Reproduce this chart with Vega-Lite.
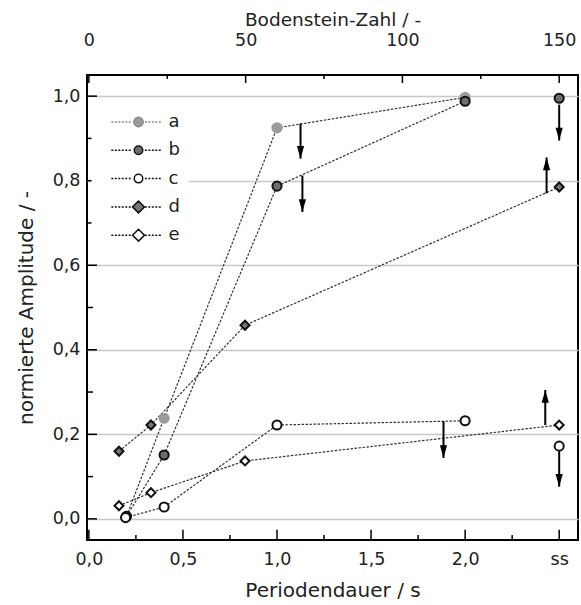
{
  "$schema": "https://vega.github.io/schema/vega-lite/v6.json",
  "width": 491,
  "height": 465,
  "autosize": {"type": "none"},
  "padding": {"left": 87, "top": 75, "right": 3, "bottom": 65},
  "background": "white",
  "config": {
    "view": {"stroke": "black", "strokeWidth": 2},
    "font": "DejaVu Sans",
    "axis": {
      "labelFont": "DejaVu Sans",
      "titleFont": "DejaVu Sans",
      "labelColor": "#222",
      "titleColor": "#222",
      "labelFontSize": 17.5,
      "titleFontSize": 20,
      "titleFontWeight": "normal",
      "ticks": false,
      "tickSize": 0,
      "domain": false,
      "grid": false,
      "labelFlush": false,
      "labelOverlap": false
    }
  },
  "datasets": {
    "pts": [
      {"series": "a", "t": 0.2, "v": 0.006, "conn": true},
      {"series": "a", "t": 0.4, "v": 0.238, "conn": true},
      {"series": "a", "t": 1.0, "v": 0.925, "conn": true},
      {"series": "a", "t": 2.0, "v": 0.997, "conn": true},
      {"series": "b", "t": 0.2, "v": 0.006, "conn": true},
      {"series": "b", "t": 0.4, "v": 0.151, "conn": true},
      {"series": "b", "t": 1.0, "v": 0.787, "conn": true},
      {"series": "b", "t": 2.0, "v": 0.988, "conn": true},
      {"series": "b", "t": 2.5, "v": 0.995, "conn": false},
      {"series": "c", "t": 0.195, "v": 0.003, "conn": true},
      {"series": "c", "t": 0.4, "v": 0.028, "conn": true},
      {"series": "c", "t": 1.0, "v": 0.222, "conn": true},
      {"series": "c", "t": 2.0, "v": 0.232, "conn": true},
      {"series": "c", "t": 2.5, "v": 0.172, "conn": false},
      {"series": "d", "t": 0.16, "v": 0.16, "conn": true},
      {"series": "d", "t": 0.33, "v": 0.222, "conn": true},
      {"series": "d", "t": 0.83, "v": 0.458, "conn": true},
      {"series": "d", "t": 2.5, "v": 0.785, "conn": true},
      {"series": "e", "t": 0.16, "v": 0.031, "conn": true},
      {"series": "e", "t": 0.33, "v": 0.062, "conn": true},
      {"series": "e", "t": 0.83, "v": 0.137, "conn": true},
      {"series": "e", "t": 2.5, "v": 0.222, "conn": true}
    ],
    "arrows": [
      {"t": 1.125, "v": 0.935, "v2": 0.852, "dir": "down"},
      {"t": 1.135, "v": 0.812, "v2": 0.726, "dir": "down"},
      {"t": 1.885, "v": 0.231, "v2": 0.144, "dir": "down"},
      {"t": 2.5, "v": 0.98, "v2": 0.895, "dir": "down"},
      {"t": 2.433, "v": 0.77, "v2": 0.855, "dir": "up"},
      {"t": 2.426, "v": 0.222, "v2": 0.305, "dir": "up"},
      {"t": 2.5, "v": 0.16, "v2": 0.076, "dir": "down"}
    ],
    "xt": [
      {"t": 0, "k": "M"}, {"t": 0.25, "k": "m"}, {"t": 0.5, "k": "M"}, {"t": 0.75, "k": "m"},
      {"t": 1.0, "k": "M"}, {"t": 1.25, "k": "m"}, {"t": 1.5, "k": "M"}, {"t": 1.75, "k": "m"},
      {"t": 2.0, "k": "M"}, {"t": 2.25, "k": "m"}, {"t": 2.5, "k": "M"}
    ],
    "yt": [
      {"v": 0, "k": "M"}, {"v": 0.1, "k": "m"}, {"v": 0.2, "k": "M"}, {"v": 0.3, "k": "m"},
      {"v": 0.4, "k": "M"}, {"v": 0.5, "k": "m"}, {"v": 0.6, "k": "M"}, {"v": 0.7, "k": "m"},
      {"v": 0.8, "k": "M"}, {"v": 0.9, "k": "m"}, {"v": 1.0, "k": "M"}
    ],
    "bt": [
      {"bo": 0, "k": "M"}, {"bo": 25, "k": "m"}, {"bo": 50, "k": "M"}, {"bo": 75, "k": "m"},
      {"bo": 100, "k": "M"}, {"bo": 125, "k": "m"}, {"bo": 150, "k": "M"}
    ]
  },
  "layer": [
    {
      "layer": [
        {
          "data": {"name": "pts"},
          "transform": [{"filter": "datum.conn"}],
          "mark": {"type": "line", "strokeDash": [2.5, 1.5], "strokeWidth": 1.2, "color": "#333"},
          "encoding": {
            "x": {
              "field": "t", "type": "quantitative",
              "scale": {"domain": [-0.01, 2.6], "nice": false, "zero": false},
              "axis": {
                "orient": "bottom", "title": "Periodendauer / s",
                "values": [0, 0.5, 1, 1.5, 2, 2.5],
                "labelExpr": "datum.value >= 2.4 ? 'ss' : replace(format(datum.value, '.1f'), '.', ',')",
                "labelPadding": 10, "titlePadding": 13
              }
            },
            "y": {
              "field": "v", "type": "quantitative",
              "scale": {"domain": [-0.05, 1.05], "nice": false, "zero": false},
              "axis": {
                "orient": "left", "title": "normierte Amplitude / -",
                "values": [0, 0.2, 0.4, 0.6, 0.8, 1.0],
                "labelExpr": "replace(format(datum.value, '.1f'), '.', ',')",
                "labelPadding": 7, "titlePadding": 16,
                "grid": true, "gridColor": "#c8c8c8", "gridWidth": 1.5
              }
            },
            "detail": {"field": "series"},
            "order": {"field": "t"}
          }
        },
        {
          "data": {"name": "xt"},
          "transform": [{"filter": "datum.k === 'M'"}],
          "mark": {"type": "rule", "strokeWidth": 1.5, "color": "black", "opacity": 1},
          "encoding": {
            "x": {"field": "t", "type": "quantitative"},
            "y": {"datum": -0.05, "type": "quantitative"},
            "y2": {"datum": -0.026}
          }
        },
        {
          "data": {"name": "xt"},
          "transform": [{"filter": "datum.k === 'm'"}],
          "mark": {"type": "rule", "strokeWidth": 1.5, "color": "black", "opacity": 1},
          "encoding": {
            "x": {"field": "t", "type": "quantitative"},
            "y": {"datum": -0.05, "type": "quantitative"},
            "y2": {"datum": -0.038}
          }
        },
        {
          "data": {"name": "yt"},
          "transform": [{"filter": "datum.k === 'M'"}],
          "mark": {"type": "rule", "strokeWidth": 1.5, "color": "black", "opacity": 1},
          "encoding": {
            "y": {"field": "v", "type": "quantitative"},
            "x": {"datum": -0.01, "type": "quantitative"},
            "x2": {"datum": 0.043}
          }
        },
        {
          "data": {"name": "yt"},
          "transform": [{"filter": "datum.k === 'm'"}],
          "mark": {"type": "rule", "strokeWidth": 1.5, "color": "black", "opacity": 1},
          "encoding": {
            "y": {"field": "v", "type": "quantitative"},
            "x": {"datum": -0.01, "type": "quantitative"},
            "x2": {"datum": 0.022}
          }
        },
        {
          "data": {"name": "arrows"},
          "mark": {"type": "rule", "strokeWidth": 2, "color": "black"},
          "encoding": {
            "x": {"field": "t", "type": "quantitative"},
            "y": {"field": "v", "type": "quantitative"},
            "y2": {"field": "v2"}
          }
        },
        {
          "data": {"name": "arrows"},
          "transform": [{"filter": "datum.dir === 'down'"}],
          "mark": {"type": "point", "shape": "M0,0L-0.9,-3.2L0.9,-3.2Z", "size": 64, "filled": true, "color": "black", "opacity": 1},
          "encoding": {
            "x": {"field": "t", "type": "quantitative"},
            "y": {"field": "v2", "type": "quantitative"}
          }
        },
        {
          "data": {"name": "arrows"},
          "transform": [{"filter": "datum.dir === 'up'"}],
          "mark": {"type": "point", "shape": "M0,0L-0.9,3.2L0.9,3.2Z", "size": 64, "filled": true, "color": "black", "opacity": 1},
          "encoding": {
            "x": {"field": "t", "type": "quantitative"},
            "y": {"field": "v2", "type": "quantitative"}
          }
        },
        {
          "data": {"name": "pts"},
          "mark": {"type": "point", "strokeWidth": 2, "opacity": 1},
          "encoding": {
            "x": {"field": "t", "type": "quantitative"},
            "y": {"field": "v", "type": "quantitative"},
            "shape": {"field": "series", "type": "nominal", "scale": {"domain": ["a", "b", "c", "d", "e"], "range": ["circle", "circle", "circle", "diamond", "diamond"]}, "legend": null},
            "fill": {"field": "series", "type": "nominal", "scale": {"domain": ["a", "b", "c", "d", "e"], "range": ["#9b9b9b", "#6e6e6e", "#ffffff", "#777777", "#ffffff"]}, "legend": null},
            "stroke": {"field": "series", "type": "nominal", "scale": {"domain": ["a", "b", "c", "d", "e"], "range": ["#9b9b9b", "#111111", "#111111", "#111111", "#111111"]}, "legend": null},
            "size": {"field": "series", "type": "nominal", "scale": {"domain": ["a", "b", "c", "d", "e"], "range": [85, 80, 80, 150, 150]}, "legend": null}
          }
        },
        {
          "data": {"name": "pts"},
          "transform": [{"filter": "datum.series === 'none'"}],
          "mark": {"type": "point"},
          "encoding": {
            "shape": {"field": "series", "type": "nominal",
              "scale": {"domain": ["a", "b", "c", "d", "e"], "range": [
                "M-6.4,0h0.47M-5.58,0h0.47M-4.76,0h0.47M-3.94,0h0.47M-3.12,0h0.47M-2.3,0h0.47M1.5,0h0.47M2.32,0h0.47M3.14,0h0.47M3.96,0h0.47M4.78,0h0.47M1.1,0A1.1,1.1,0,1,1,-1.1,0A1.1,1.1,0,1,1,1.1,0Z",
                "M-6.4,0h0.47M-5.58,0h0.47M-4.76,0h0.47M-3.94,0h0.47M-3.12,0h0.47M-2.3,0h0.47M1.5,0h0.47M2.32,0h0.47M3.14,0h0.47M3.96,0h0.47M4.78,0h0.47M1,0A1,1,0,1,1,-1,0A1,1,0,1,1,1,0Z",
                "M-6.4,0h0.47M-5.58,0h0.47M-4.76,0h0.47M-3.94,0h0.47M-3.12,0h0.47M-2.3,0h0.47M1.5,0h0.47M2.32,0h0.47M3.14,0h0.47M3.96,0h0.47M4.78,0h0.47M1,0A1,1,0,1,1,-1,0A1,1,0,1,1,1,0Z",
                "M-6.4,0h0.47M-5.58,0h0.47M-4.76,0h0.47M-3.94,0h0.47M-3.12,0h0.47M-2.3,0h0.47M1.5,0h0.47M2.32,0h0.47M3.14,0h0.47M3.96,0h0.47M4.78,0h0.47M-1.4,0L0,-1.4L1.4,0L0,1.4Z",
                "M-6.4,0h0.47M-5.58,0h0.47M-4.76,0h0.47M-3.94,0h0.47M-3.12,0h0.47M-2.3,0h0.47M1.5,0h0.47M2.32,0h0.47M3.14,0h0.47M3.96,0h0.47M4.78,0h0.47M-1.4,0L0,-1.4L1.4,0L0,1.4Z"
              ]},
              "legend": {"orient": "none", "legendX": 4.5, "legendY": 30, "title": null, "symbolSize": 72, "symbolStrokeWidth": 1.5, "symbolOffset": 30, "labelOffset": 21, "labelFontSize": 18, "labelFont": "DejaVu Sans", "labelColor": "#222", "rowPadding": 10.3, "padding": 8, "fillColor": "white", "strokeColor": null, "symbolOpacity": 1}
            },
            "fill": {"field": "series", "type": "nominal", "scale": {"domain": ["a", "b", "c", "d", "e"], "range": ["#9b9b9b", "#6e6e6e", "#ffffff", "#777777", "#ffffff"]},
              "legend": {"orient": "none", "legendX": 4.5, "legendY": 30, "title": null, "symbolSize": 72, "symbolStrokeWidth": 1.5, "symbolOffset": 30, "labelOffset": 21, "labelFontSize": 18, "labelFont": "DejaVu Sans", "labelColor": "#222", "rowPadding": 10.3, "padding": 8, "fillColor": "white", "strokeColor": null, "symbolOpacity": 1}},
            "stroke": {"field": "series", "type": "nominal", "scale": {"domain": ["a", "b", "c", "d", "e"], "range": ["#8a8a8a", "#111111", "#111111", "#111111", "#111111"]},
              "legend": {"orient": "none", "legendX": 4.5, "legendY": 30, "title": null, "symbolSize": 72, "symbolStrokeWidth": 1.5, "symbolOffset": 30, "labelOffset": 21, "labelFontSize": 18, "labelFont": "DejaVu Sans", "labelColor": "#222", "rowPadding": 10.3, "padding": 8, "fillColor": "white", "strokeColor": null, "symbolOpacity": 1}}
          }
        }
      ],
      "resolve": {
        "scale": {"shape": "independent", "fill": "independent", "stroke": "independent", "size": "independent"}
      }
    },
    {
      "layer": [
        {
          "data": {"name": "bt"},
          "transform": [{"filter": "datum.k === 'M'"}],
          "mark": {"type": "rule", "strokeWidth": 1.5, "color": "black", "opacity": 1},
          "encoding": {
            "x": {
              "field": "bo", "type": "quantitative",
              "scale": {"domain": [-0.6, 156], "nice": false, "zero": false},
              "axis": {"orient": "top", "title": "Bodenstein-Zahl / -", "titleFontSize": 18.5, "values": [0, 50, 100, 150], "labelPadding": 26, "titlePadding": 2}
            },
            "y": {"datum": 1.05, "type": "quantitative"},
            "y2": {"datum": 1.031}
          }
        },
        {
          "data": {"name": "bt"},
          "transform": [{"filter": "datum.k === 'm'"}],
          "mark": {"type": "rule", "strokeWidth": 1.5, "color": "black", "opacity": 1},
          "encoding": {
            "x": {"field": "bo", "type": "quantitative"},
            "y": {"datum": 1.05, "type": "quantitative"},
            "y2": {"datum": 1.0406}
          }
        }
      ]
    }
  ],
  "resolve": {"scale": {"x": "independent"}, "axis": {"x": "independent"}}
}
